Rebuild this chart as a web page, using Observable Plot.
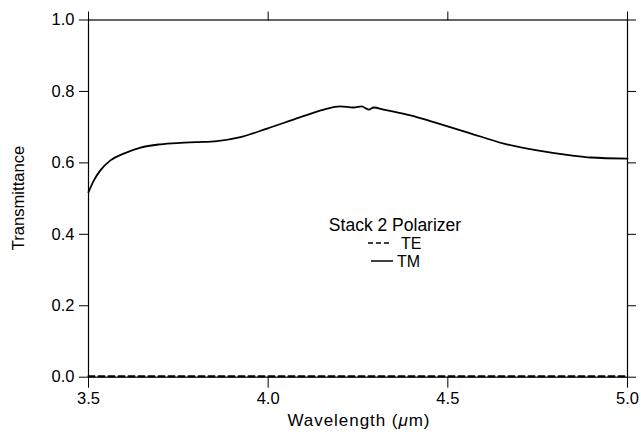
<!DOCTYPE html>
<html>
<head>
<meta charset="utf-8">
<script src="https://cdn.jsdelivr.net/npm/d3@7"></script>
<script src="https://cdn.jsdelivr.net/npm/@observablehq/plot@0.6"></script>
<style>
  html, body { margin: 0; padding: 0; background: white; }
  svg { display: block; }
</style>
</head>
<body>
<div id="chart"></div>
<script>
// Wavelength (µm) and transmittance readings
const wavelength = [3.5, 3.515, 3.533, 3.561, 3.598, 3.645, 3.70, 3.756, 3.80, 3.858, 3.923, 3.997, 4.09, 4.155, 4.20, 4.238, 4.26, 4.28, 4.294, 4.322, 4.396, 4.461, 4.556, 4.656, 4.749, 4.842, 4.897, 5.0];
const tmValues = [0.518, 0.551, 0.579, 0.607, 0.626, 0.643, 0.652, 0.656, 0.658, 0.661, 0.672, 0.696, 0.728, 0.749, 0.758, 0.755, 0.758, 0.749, 0.755, 0.749, 0.733, 0.714, 0.685, 0.654, 0.635, 0.621, 0.615, 0.612];
const teWavelength = [3.5, 5.0];
const teValues = [0.003, 0.003];

const xTicks = [3.5, 4.0, 4.5, 5.0];
const yTicks = [0, 0.2, 0.4, 0.6, 0.8, 1.0];

const legendTitle = "Stack 2 Polarizer";
const seriesNames = ["TE", "TM"];
const xLabel = "Wavelength (";
const xLabelUnit = "μ";
const xLabelEnd = "m)";
const yLabel = "Transmittance";

const tm = wavelength.map((w, i) => ({x: w, y: tmValues[i]}));
const te = teWavelength.map((w, i) => ({x: w, y: teValues[i]}));

const font = "'Liberation Sans', Arial, Helvetica, sans-serif";
const fmt = d3.format(".1f");

const svg = Plot.plot({
  width: 641,
  height: 434,
  marginLeft: 88,
  marginRight: 14,
  marginTop: 19.5,
  marginBottom: 57.3,
  style: {fontFamily: font, fontSize: "16.5px", color: "black", background: "white"},
  x: {domain: [3.5, 5.0], label: null},
  y: {domain: [0, 1], label: null},
  marks: [
    Plot.frame({stroke: "black", strokeWidth: 1.2}),
    Plot.axisY({anchor: "left", ticks: yTicks, tickSize: 9, tickPadding: 5, tickFormat: fmt, label: null, fontSize: 16.5}),
    Plot.axisY({anchor: "right", ticks: yTicks, tickSize: 8, tickFormat: () => "", label: null}),
    Plot.axisX({anchor: "top", ticks: xTicks, tickSize: 9, tickFormat: () => "", label: null}),
    Plot.axisX({anchor: "bottom", ticks: xTicks, tickSize: 11, tickPadding: 4, tickFormat: fmt, label: null, fontSize: 16.5}),
    Plot.line(te, {x: "x", y: "y", stroke: "black", strokeWidth: 2, strokeDasharray: "6,4"}),
    Plot.line(tm, {x: "x", y: "y", stroke: "black", strokeWidth: 1.8, curve: "monotone-x"})
  ]
});

const s = d3.select(svg);
// axis labels
const xl = s.append("text")
  .attr("x", 358.5).attr("y", 426)
  .attr("text-anchor", "middle")
  .attr("textLength", 142).attr("lengthAdjust", "spacing")
  .attr("font-family", font).attr("font-size", 17).attr("fill", "black");
xl.append("tspan").text(xLabel);
xl.append("tspan").attr("font-style", "italic").text(xLabelUnit);
xl.append("tspan").text(xLabelEnd);

s.append("text")
  .attr("transform", "translate(24,198) rotate(-90)")
  .attr("text-anchor", "middle")
  .attr("font-family", font).attr("font-size", 16.6).attr("fill", "black")
  .text(yLabel);

// legend
const lg = s.append("g").attr("font-family", font).attr("fill", "black").attr("text-anchor", "start");
lg.append("text").attr("x", 395).attr("y", 230.5).attr("font-size", 17.5).attr("text-anchor", "middle").text(legendTitle);
lg.append("line").attr("x1", 368).attr("x2", 389).attr("y1", 243).attr("y2", 243)
  .attr("stroke", "black").attr("stroke-width", 1.5).attr("stroke-dasharray", "5,3");
lg.append("text").attr("x", 401).attr("y", 249).attr("font-size", 16).text(seriesNames[0]);
lg.append("line").attr("x1", 371).attr("x2", 393).attr("y1", 261).attr("y2", 261)
  .attr("stroke", "black").attr("stroke-width", 1.5);
lg.append("text").attr("x", 397).attr("y", 267).attr("font-size", 16).text(seriesNames[1]);

document.getElementById("chart").appendChild(svg);
</script>
</body>
</html>
